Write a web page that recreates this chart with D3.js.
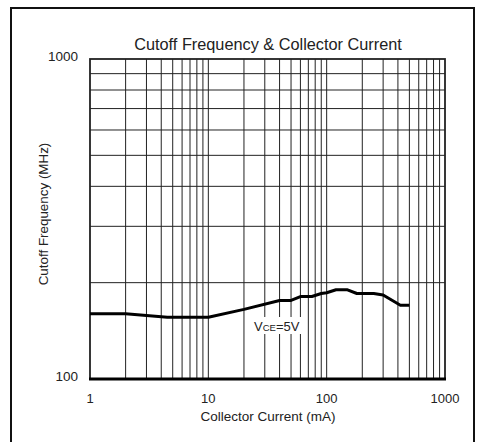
<!DOCTYPE html>
<html>
<head>
<meta charset="utf-8">
<script src="https://cdn.jsdelivr.net/npm/d3@7"></script>
<style>
  body { margin: 0; background: #fff; }
  text { font-family: "Liberation Sans", Arial, sans-serif; fill: #222; }
</style>
</head>
<body>
<svg></svg>
<script>
// chart data
var currentMA = [1, 2, 3, 4.5, 10, 20, 40, 50, 60, 75, 90, 100, 120, 150, 180, 250, 300, 420, 500]
var cutoffMHz = [160, 160, 158, 156, 156, 165, 176, 176, 181, 181, 185, 186, 190, 190, 185, 185, 183, 170, 170]
var xTicks = [1, 10, 100, 1000]
var yTicks = [100, 1000]
var xGrid = [2, 3, 4, 5, 6, 7, 8, 9, 10, 20, 30, 40, 50, 60, 70, 80, 90, 100, 200, 300, 400, 500, 600, 700, 800, 900]
var yGrid = [200, 300, 400, 500, 600, 700, 800, 900]

function main() {
    var svgWidth = 482, svgHeight = 442
    var left = 90, right = 445, top = 59, bottom = 379

    var svg = d3.select('svg').attr('width', svgWidth).attr('height', svgHeight)

    // outer frame
    svg.append('rect')
        .attr('x', 11).attr('y', 8)
        .attr('width', 463).attr('height', 450)
        .attr('fill', 'none').attr('stroke', '#111').attr('stroke-width', 2)

    var xScale = d3.scaleLog().domain([1, 1000]).range([left, right])
    var yScale = d3.scaleLog().domain([100, 1000]).range([bottom, top])

    // grid lines
    svg.selectAll('.vgrid').data(xGrid).enter().append('line')
        .attr('x1', function(d) { return xScale(d) }).attr('x2', function(d) { return xScale(d) })
        .attr('y1', top).attr('y2', bottom)
        .attr('stroke', '#222').attr('stroke-width', 1)
    svg.selectAll('.hgrid').data(yGrid).enter().append('line')
        .attr('y1', function(d) { return yScale(d) }).attr('y2', function(d) { return yScale(d) })
        .attr('x1', left).attr('x2', right)
        .attr('stroke', '#222').attr('stroke-width', 1)

    // plot border
    svg.append('rect')
        .attr('x', left).attr('y', top)
        .attr('width', right - left).attr('height', bottom - top)
        .attr('fill', 'none').attr('stroke', '#222').attr('stroke-width', 1.8)
    svg.append('line')
        .attr('x1', left - 1).attr('x2', right + 1)
        .attr('y1', bottom).attr('y2', bottom)
        .attr('stroke', '#000').attr('stroke-width', 3)

    // curve
    var line = d3.line()
        .x(function(d, i) { return xScale(currentMA[i]) })
        .y(function(d) { return yScale(d) })
    svg.append('path')
        .datum(cutoffMHz)
        .attr('d', line)
        .attr('fill', 'none').attr('stroke', '#000').attr('stroke-width', 3)
        .attr('stroke-linejoin', 'round')

    // curve label with white box
    svg.append('rect')
        .attr('x', 252).attr('y', 317).attr('width', 50).attr('height', 17)
        .attr('fill', '#fff')
    var lab = svg.append('text').attr('x', 254).attr('y', 331).style('font-size', '13px')
    lab.append('tspan').text('V')
    lab.append('tspan').style('font-size', '9.5px').text('CE')
    lab.append('tspan').text('=5V')

    // tick labels
    svg.selectAll('.xlab').data(xTicks).enter().append('text')
        .attr('x', function(d) { return xScale(d) })
        .attr('y', 403)
        .attr('text-anchor', 'middle')
        .style('font-size', '13px')
        .text(function(d) { return d })
    svg.selectAll('.ylab').data(yTicks).enter().append('text')
        .attr('x', 78)
        .attr('y', function(d) { return yScale(d) })
        .attr('dy', '0.15em')
        .attr('text-anchor', 'end')
        .style('font-size', '13.5px')
        .text(function(d) { return d })

    // titles
    svg.append('text')
        .attr('x', 268).attr('y', 50)
        .attr('text-anchor', 'middle')
        .style('font-size', '16.3px')
        .text('Cutoff Frequency & Collector Current')
    svg.append('text')
        .attr('x', 268).attr('y', 421)
        .attr('text-anchor', 'middle')
        .style('font-size', '13.5px')
        .text('Collector Current (mA)')
    svg.append('text')
        .attr('transform', 'translate(48, 214) rotate(-90)')
        .attr('text-anchor', 'middle')
        .style('font-size', '13.4px')
        .text('Cutoff Frequency (MHz)')
}
main()
</script>
</body>
</html>
